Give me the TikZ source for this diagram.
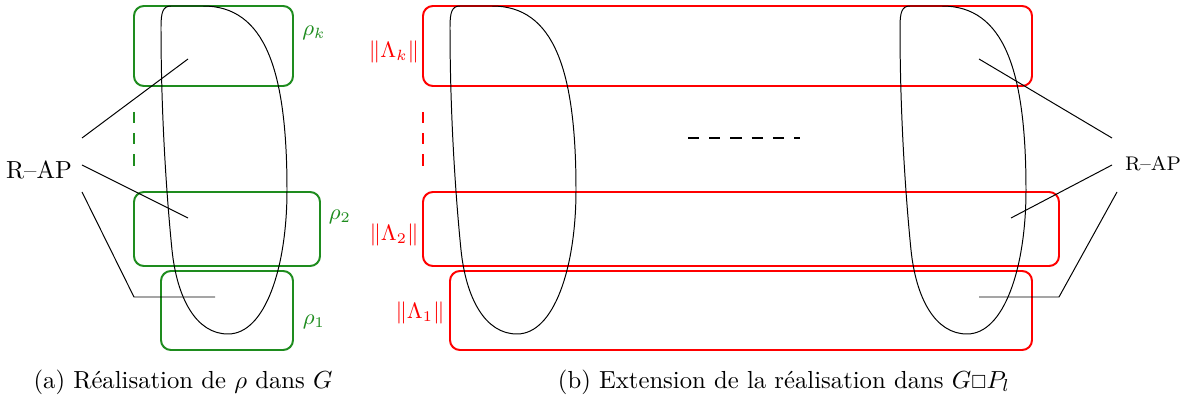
\documentclass[tikz,border=0pt]{standalone}
\usepackage{amssymb}
\usetikzlibrary{fit}
\definecolor{gcol}{RGB}{30,140,30}
\definecolor{rcol}{RGB}{255,0,0}
\begin{document}
\begin{tikzpicture}[x=0.405pt,y=-0.405pt,
  gbox/.style={draw=gcol,line width=0.8pt,rounded corners=4pt,inner sep=0pt},
  rbox/.style={draw=rcol,line width=0.8pt,rounded corners=4pt,inner sep=0pt},
  glabel/.style={text=gcol,font=\small,inner sep=0pt},
  rlabel/.style={text=rcol,font=\small,inner sep=0pt},
  gdash/.style={draw=gcol,line width=0.8pt,dash pattern=on 4.5pt off 4.1pt},
  rdash/.style={draw=rcol,line width=0.8pt,dash pattern=on 4.5pt off 4.1pt},
  blobline/.style={draw=black,line width=0.4pt},
  conn/.style={draw=black,line width=0.4pt},
  blob/.pic={\draw[blobline] (171,6) -- (203,6) .. controls (265,6) and (287,70) .. (287,190)
     .. controls (287,268) and (265,334) .. (228,334)
     .. controls (196,334) and (177,298) .. (172,250)
     .. controls (166,190) and (161,110) .. (161,27)
     .. controls (161,12) and (163,6) .. (171,6) -- cycle;}
]
\useasboundingbox (0,0) rectangle (1187,399);

% ---------- panel (a) ----------
\node[gbox,fit={(134,6) (293,86)}] (rk) {};
\node[gbox,fit={(134,192) (320,266)}] (r2) {};
\node[gbox,fit={(161,271) (293,350)}] (r1) {};
\node[glabel] (lrk) at (314,33) {$\rho_k$};
\node[glabel] (lr2) at (340,217) {$\rho_2$};
\node[glabel] (lr1) at (314,322) {$\rho_1$};
\draw[gdash] (134,112) -- (134,166);
\pic at (0,0) {blob};

\node[font=\normalsize,inner sep=0pt] (rapa) at (39,170) {R--AP};
\coordinate (a1s) at (82,138);
\coordinate (a2s) at (82,165);
\coordinate (a3s) at (82,192);
\coordinate (a1e) at (188,59);
\coordinate (a2e) at (188,218);
\coordinate (a3m) at (134,297);
\coordinate (a3e) at (215,297);
\draw[conn] (a1s) -- (a1e);
\draw[conn] (a2s) -- (a2e);
\draw[conn] (a3s) -- (a3m) -- (a3e);

% ---------- panel (b) ----------
\node[rbox,fit={(423,6) (1032,86)}] (lk) {};
\node[rbox,fit={(423,192) (1059,266)}] (l2) {};
\node[rbox,fit={(450,271) (1032,350)}] (l1) {};
\node[rlabel] (llk) at (394,52) {$\|\Lambda_k\|$};
\node[rlabel] (ll2) at (394,235) {$\|\Lambda_2\|$};
\node[rlabel] (ll1) at (420,313) {$\|\Lambda_1\|$};
\draw[rdash] (423,112) -- (423,166);
\draw[black,line width=0.8pt,dash pattern=on 4.5pt off 4.1pt] (688,138) -- (800,138);
\pic at (289,0) {blob};
\pic at (739,0) {blob};

\node[font=\footnotesize,inner sep=0pt] (rapb) at (1153,164) {R--AP};
\coordinate (b1s) at (1112,138);
\coordinate (b2s) at (1112,165);
\coordinate (b3s) at (1117,192);
\coordinate (b1e) at (979,59);
\coordinate (b2e) at (1011,218);
\coordinate (b3m) at (1059,297);
\coordinate (b3e) at (979,297);
\draw[conn] (b1s) -- (b1e);
\draw[conn] (b2s) -- (b2e);
\draw[conn] (b3s) -- (b3m) -- (b3e);

% ---------- captions ----------
\node (capa) at (183,382) {(a) Réalisation de $\rho$ dans $G$};
\node (capb) at (784,382) {(b) Extension de la réalisation dans $G{\scriptstyle\square}P_l$};
\end{tikzpicture}
\end{document}
